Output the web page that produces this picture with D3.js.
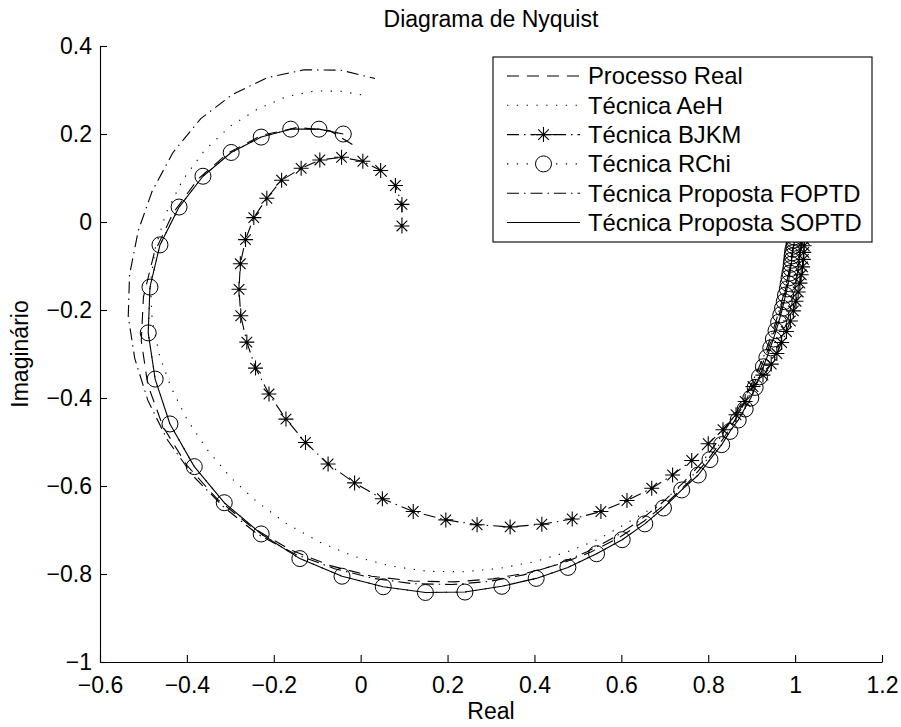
<!DOCTYPE html>
<html>
<head>
<meta charset="utf-8">
<script src="https://cdn.jsdelivr.net/npm/d3@7"></script>
<style>
  html, body { margin: 0; padding: 0; background: #fff; }
  svg { display: block; font-family: "Liberation Sans", Arial, Helvetica, sans-serif; }
</style>
</head>
<body>
<svg id="chart" width="901" height="727"></svg>
<script>
// Frequency-response points [Re, Im], ordered from low to high frequency.
const processoReal = [
  [1.000,-0.006],[0.999,-0.020],[0.998,-0.041],[0.995,-0.062],[0.991,-0.087],[0.986,-0.116],
  [0.980,-0.146],[0.972,-0.180],[0.962,-0.216],[0.950,-0.255],[0.935,-0.297],[0.917,-0.342],
  [0.895,-0.390],[0.868,-0.440],[0.835,-0.492],[0.797,-0.543],[0.754,-0.592],[0.706,-0.637],
  [0.652,-0.680],[0.594,-0.718],[0.530,-0.750],[0.460,-0.777],[0.385,-0.797],[0.305,-0.811],
  [0.215,-0.818],[0.120,-0.816],[0.025,-0.805],[-0.070,-0.781],[-0.162,-0.745],[-0.250,-0.694],
  [-0.330,-0.630],[-0.400,-0.553],[-0.455,-0.465],[-0.490,-0.370],[-0.505,-0.270],[-0.500,-0.170],
  [-0.475,-0.070],[-0.432,0.020],[-0.375,0.097],[-0.305,0.157],[-0.228,0.197],[-0.145,0.215],
  [-0.070,0.207],[-0.006,0.168]
];

const tecnicaAeH = [
  [1.000,-0.008],[0.999,-0.026],[0.998,-0.045],[0.996,-0.065],[0.993,-0.087],[0.989,-0.110],
  [0.984,-0.134],[0.978,-0.160],[0.971,-0.187],[0.963,-0.216],[0.954,-0.247],[0.943,-0.280],
  [0.931,-0.314],[0.917,-0.350],[0.900,-0.387],[0.880,-0.425],[0.857,-0.462],[0.830,-0.500],
  [0.800,-0.537],[0.765,-0.575],[0.720,-0.615],[0.668,-0.652],[0.610,-0.686],[0.545,-0.722],
  [0.475,-0.750],[0.400,-0.772],[0.320,-0.787],[0.240,-0.795],[0.155,-0.794],[0.070,-0.782],
  [-0.015,-0.760],[-0.095,-0.727],[-0.170,-0.686],[-0.240,-0.635],[-0.300,-0.580],[-0.355,-0.515],
  [-0.400,-0.448],[-0.437,-0.375],[-0.464,-0.300],[-0.480,-0.220],[-0.484,-0.140],[-0.473,-0.060],
  [-0.448,0.020],[-0.410,0.095],[-0.360,0.162],[-0.300,0.218],[-0.235,0.258],[-0.170,0.285],
  [-0.105,0.298],[-0.045,0.297],[0.014,0.287]
];

const tecnicaBJKM = [
  [1.020,-0.012],[1.021,-0.026],[1.021,-0.040],[1.021,-0.054],[1.020,-0.069],[1.019,-0.085],
  [1.017,-0.102],[1.014,-0.120],[1.011,-0.139],[1.007,-0.159],[1.002,-0.180],[0.996,-0.202],
  [0.989,-0.225],[0.980,-0.249],[0.969,-0.274],[0.958,-0.299],[0.945,-0.323],[0.926,-0.348],
  [0.903,-0.374],[0.885,-0.408],[0.864,-0.438],[0.834,-0.472],[0.800,-0.504],[0.762,-0.542],
  [0.718,-0.575],[0.670,-0.605],[0.613,-0.633],[0.553,-0.658],[0.487,-0.675],[0.417,-0.687],
  [0.344,-0.693],[0.268,-0.688],[0.196,-0.677],[0.121,-0.658],[0.050,-0.629],[-0.014,-0.593],
  [-0.075,-0.550],[-0.127,-0.501],[-0.172,-0.448],[-0.211,-0.391],[-0.242,-0.332],[-0.262,-0.273],
  [-0.276,-0.213],[-0.280,-0.153],[-0.277,-0.095],[-0.265,-0.040],[-0.246,0.010],[-0.216,0.054],
  [-0.182,0.095],[-0.137,0.122],[-0.094,0.141],[-0.044,0.147],[0.005,0.138],[0.046,0.117],
  [0.080,0.083],[0.095,0.040],[0.095,-0.009]
];

const tecnicaRChi = [
  [1.000,-0.006],[1.000,-0.013],[0.999,-0.020],[0.999,-0.027],[0.998,-0.034],[0.998,-0.041],
  [0.998,-0.048],[0.997,-0.055],[0.995,-0.062],[0.994,-0.070],[0.993,-0.077],[0.992,-0.087],
  [0.991,-0.096],[0.990,-0.106],[0.988,-0.116],[0.986,-0.127],[0.984,-0.140],[0.982,-0.152],
  [0.978,-0.166],[0.975,-0.181],[0.971,-0.196],[0.967,-0.211],[0.962,-0.228],[0.956,-0.247],
  [0.950,-0.266],[0.944,-0.286],[0.935,-0.308],[0.927,-0.329],[0.918,-0.352],[0.908,-0.376],
  [0.898,-0.400],[0.885,-0.425],[0.869,-0.450],[0.850,-0.476],[0.831,-0.506],[0.804,-0.540],
  [0.777,-0.575],[0.739,-0.609],[0.697,-0.650],[0.654,-0.686],[0.602,-0.722],[0.543,-0.754],
  [0.477,-0.785],[0.404,-0.810],[0.325,-0.828],[0.240,-0.841],[0.149,-0.842],[0.052,-0.829],
  [-0.043,-0.805],[-0.140,-0.765],[-0.229,-0.709],[-0.314,-0.638],[-0.383,-0.556],[-0.439,-0.459],
  [-0.473,-0.357],[-0.489,-0.252],[-0.485,-0.148],[-0.462,-0.052],[-0.418,0.034],[-0.363,0.104],
  [-0.298,0.158],[-0.229,0.193],[-0.161,0.211],[-0.096,0.211],[-0.040,0.200]
];

const propostaFOPTD = [
  [1.000,-0.006],[0.999,-0.020],[0.998,-0.040],[0.995,-0.062],[0.991,-0.088],[0.985,-0.117],
  [0.978,-0.148],[0.969,-0.182],[0.958,-0.219],[0.945,-0.259],[0.929,-0.302],[0.909,-0.348],
  [0.885,-0.397],[0.856,-0.447],[0.822,-0.498],[0.785,-0.547],[0.742,-0.593],[0.695,-0.637],
  [0.643,-0.678],[0.585,-0.716],[0.520,-0.750],[0.450,-0.779],[0.375,-0.802],[0.295,-0.817],
  [0.210,-0.824],[0.120,-0.822],[0.030,-0.810],[-0.060,-0.788],[-0.150,-0.755],[-0.237,-0.710],
  [-0.315,-0.648],[-0.385,-0.578],[-0.445,-0.495],[-0.490,-0.405],[-0.520,-0.310],[-0.535,-0.215],
  [-0.532,-0.120],[-0.512,-0.020],[-0.480,0.070],[-0.432,0.158],[-0.368,0.235],[-0.295,0.290],
  [-0.215,0.328],[-0.130,0.346],[-0.045,0.345],[0.033,0.326]
];

const propostaSOPTD = [
  [1.000,-0.006],[0.999,-0.020],[0.998,-0.034],[0.998,-0.048],[0.995,-0.062],[0.993,-0.077],
  [0.991,-0.096],[0.988,-0.116],[0.984,-0.140],[0.978,-0.166],[0.971,-0.196],[0.962,-0.228],
  [0.950,-0.266],[0.935,-0.308],[0.918,-0.352],[0.898,-0.400],[0.869,-0.450],[0.850,-0.476],
  [0.831,-0.506],[0.804,-0.540],[0.777,-0.575],[0.739,-0.609],[0.697,-0.650],[0.654,-0.686],
  [0.602,-0.722],[0.543,-0.754],[0.477,-0.785],[0.404,-0.810],[0.325,-0.828],[0.240,-0.841],
  [0.149,-0.842],[0.052,-0.829],[-0.043,-0.805],[-0.140,-0.765],[-0.229,-0.709],[-0.314,-0.638],
  [-0.383,-0.556],[-0.439,-0.459],[-0.473,-0.357],[-0.489,-0.252],[-0.485,-0.148],[-0.462,-0.052],
  [-0.418,0.034],[-0.363,0.104],[-0.298,0.158],[-0.229,0.193],[-0.161,0.211],[-0.096,0.211],
  [-0.040,0.200]
];

const seriesNames = [
  "Processo Real", "Técnica AeH", "Técnica BJKM",
  "Técnica RChi", "Técnica Proposta FOPTD", "Técnica Proposta SOPTD"
];

const xTicks = [-0.6, -0.4, -0.2, 0, 0.2, 0.4, 0.6, 0.8, 1, 1.2];
const xTickLabels = ["−0.6", "−0.4", "−0.2", "0", "0.2", "0.4", "0.6", "0.8", "1", "1.2"];
const yTicks = [-1, -0.8, -0.6, -0.4, -0.2, 0, 0.2, 0.4];
const yTickLabels = ["−1", "−0.8", "−0.6", "−0.4", "−0.2", "0", "0.2", "0.4"];

const titleText = "Diagrama de Nyquist";
const xLabelText = "Real";
const yLabelText = "Imaginário";

// ---- layout ----
const plot = { left: 100, right: 882, top: 46, bottom: 662 };
const fontSize = 23;
const legendFontSize = 23.8;

const svg = d3.select("#chart");

const x = d3.scaleLinear().domain([-0.6, 1.2]).range([plot.left, plot.right]);
const y = d3.scaleLinear().domain([-1, 0.4]).range([plot.bottom, plot.top]);

const DOTTED = "1.3,8.5";
const DASHED = "12,8";
const DASHDOT = "12,5,1.5,5";

const styles = [
  { data: processoReal, dash: DASHED, marker: null },
  { data: tecnicaAeH, dash: DOTTED, marker: null },
  { data: tecnicaBJKM, dash: DASHDOT, marker: "star" },
  { data: tecnicaRChi, dash: DOTTED, marker: "circle" },
  { data: propostaFOPTD, dash: DASHDOT, marker: null },
  { data: propostaSOPTD, dash: null, marker: null }
];

const starPath = (s, d) =>
  `M${-s},0H${s}M0,${-s}V${s}M${-d},${-d}L${d},${d}M${-d},${d}L${d},${-d}`;

function drawMarker(g, type, cx, cy) {
  if (type === "circle") {
    g.append("circle").attr("cx", cx).attr("cy", cy).attr("r", 8)
      .attr("fill", "none").attr("stroke", "#000").attr("stroke-width", 1);
  } else if (type === "star") {
    g.append("path").attr("transform", `translate(${cx},${cy})`)
      .attr("d", starPath(7.5, 5.3))
      .attr("fill", "none").attr("stroke", "#000").attr("stroke-width", 1.1);
  }
}

// clip to the axes area
svg.append("defs").append("clipPath").attr("id", "plotClip")
  .append("rect").attr("x", plot.left).attr("y", plot.top)
  .attr("width", plot.right - plot.left).attr("height", plot.bottom - plot.top);

const line = d3.line().x(d => x(d[0])).y(d => y(d[1]));

const curves = svg.append("g").attr("clip-path", "url(#plotClip)");
styles.forEach(s => {
  curves.append("path")
    .attr("d", line(s.data))
    .attr("fill", "none")
    .attr("stroke", "#000")
    .attr("stroke-width", 1.1)
    .attr("stroke-dasharray", s.dash)
    .attr("stroke-linejoin", "round");
  if (s.marker) {
    s.data.forEach(p => drawMarker(curves, s.marker, x(p[0]), y(p[1])));
  }
});

// ---- axes (inward ticks, no box) ----
const xAxis = d3.axisBottom(x)
  .tickValues(xTicks)
  .tickFormat((d, i) => xTickLabels[i])
  .tickSizeInner(-7).tickSizeOuter(0).tickPadding(15);
const yAxis = d3.axisLeft(y)
  .tickValues(yTicks)
  .tickFormat((d, i) => yTickLabels[i])
  .tickSizeInner(-7).tickSizeOuter(0).tickPadding(8);

const gx = svg.append("g").attr("transform", `translate(0,${plot.bottom})`).call(xAxis);
const gy = svg.append("g").attr("transform", `translate(${plot.left},0)`).call(yAxis);
[gx, gy].forEach(g => {
  g.selectAll("path.domain").attr("stroke", "#000").attr("stroke-width", 1.1);
  g.selectAll(".tick line").attr("stroke", "#000").attr("stroke-width", 1.1);
  g.selectAll(".tick text").attr("fill", "#000")
    .style("font-size", fontSize + "px")
    .style("font-family", "'Liberation Sans', Arial, sans-serif");
});

// ---- titles ----
const midX = (plot.left + plot.right) / 2;
svg.append("text").attr("x", midX).attr("y", 27)
  .attr("text-anchor", "middle").style("font-size", fontSize + "px").text(titleText);
svg.append("text").attr("x", midX).attr("y", 719)
  .attr("text-anchor", "middle").style("font-size", fontSize + "px").text(xLabelText);
svg.append("text")
  .attr("transform", `translate(28,${(plot.top + plot.bottom) / 2}) rotate(-90)`)
  .attr("text-anchor", "middle").style("font-size", fontSize + "px").text(yLabelText);

// ---- legend ----
const legend = { x: 493, y: 57, w: 379, h: 185, rowY0: 76, rowStep: 29.3, lineX0: 507, lineX1: 580, textX: 588 };
const lg = svg.append("g");
lg.append("rect").attr("x", legend.x).attr("y", legend.y)
  .attr("width", legend.w).attr("height", legend.h)
  .attr("fill", "#fff").attr("stroke", "#000").attr("stroke-width", 1.1);

const legendMid = (legend.lineX0 + legend.lineX1) / 2;
styles.forEach((s, i) => {
  const ry = legend.rowY0 + i * legend.rowStep;
  lg.append("line")
    .attr("x1", legend.lineX0).attr("x2", legend.lineX1)
    .attr("y1", ry).attr("y2", ry)
    .attr("stroke", "#000").attr("stroke-width", 1.1)
    .attr("stroke-dasharray", s.dash);
  if (s.marker) {
    lg.append("rect").attr("x", legendMid - 9).attr("y", ry - 9)
      .attr("width", 18).attr("height", 18).attr("fill", "#fff");
    if (s.marker === "star") {
      lg.append("line").attr("x1", legendMid - 12).attr("x2", legendMid + 12)
        .attr("y1", ry).attr("y2", ry).attr("stroke", "#000").attr("stroke-width", 1.1);
    }
    drawMarker(lg, s.marker, legendMid, ry);
  }
  lg.append("text").attr("x", legend.textX).attr("y", ry)
    .attr("dy", "0.35em").style("font-size", legendFontSize + "px").text(seriesNames[i]);
});
</script>
</body>
</html>
